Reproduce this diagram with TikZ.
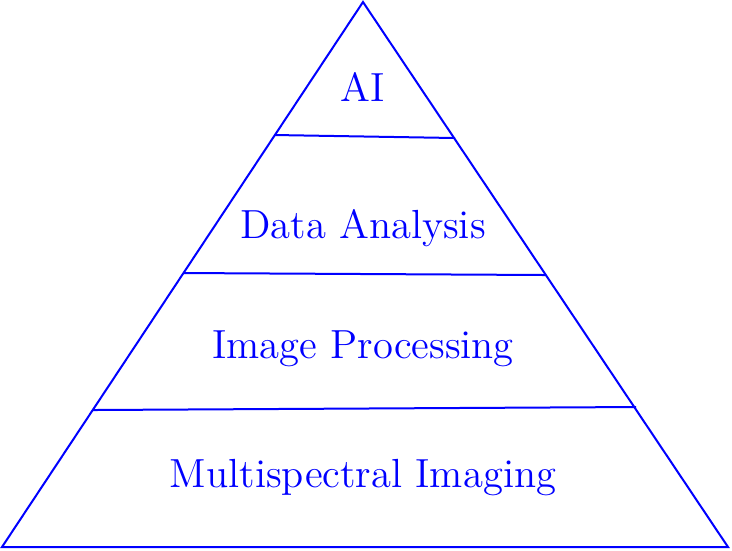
\documentclass[tikz,border=0pt]{standalone}
\begin{document}
\begin{tikzpicture}[x=0.3pt,y=-0.3pt,
  edge/.style={draw=blue,line width=0.6pt,line join=miter},
  lab/.style={text=blue,font=\fontsize{12.2}{14}\selectfont,anchor=base,inner sep=0pt}]
\useasboundingbox (0,0) rectangle (732,550);
\coordinate (top) at (363,2);
\coordinate (bl) at (2,547);
\coordinate (br) at (728,547);
\coordinate (l1) at (275,135);
\coordinate (r1) at (455,138);
\coordinate (l2) at (183,273);
\coordinate (r2) at (546,275);
\coordinate (l3) at (93,410);
\coordinate (r3) at (636,407);
\draw[edge] (top) -- (br) -- (bl) -- cycle;
\draw[edge] (l1) -- (r1);
\draw[edge] (l2) -- (r2);
\draw[edge] (l3) -- (r3);
\node[lab] (ai) at (363,101) {AI};
\node[lab] (da) at (363,238) {Data Analysis};
\node[lab] (ip) at (363,358) {Image Processing};
\node[lab] (mi) at (363,487) {Multispectral Imaging};
\end{tikzpicture}
\end{document}
